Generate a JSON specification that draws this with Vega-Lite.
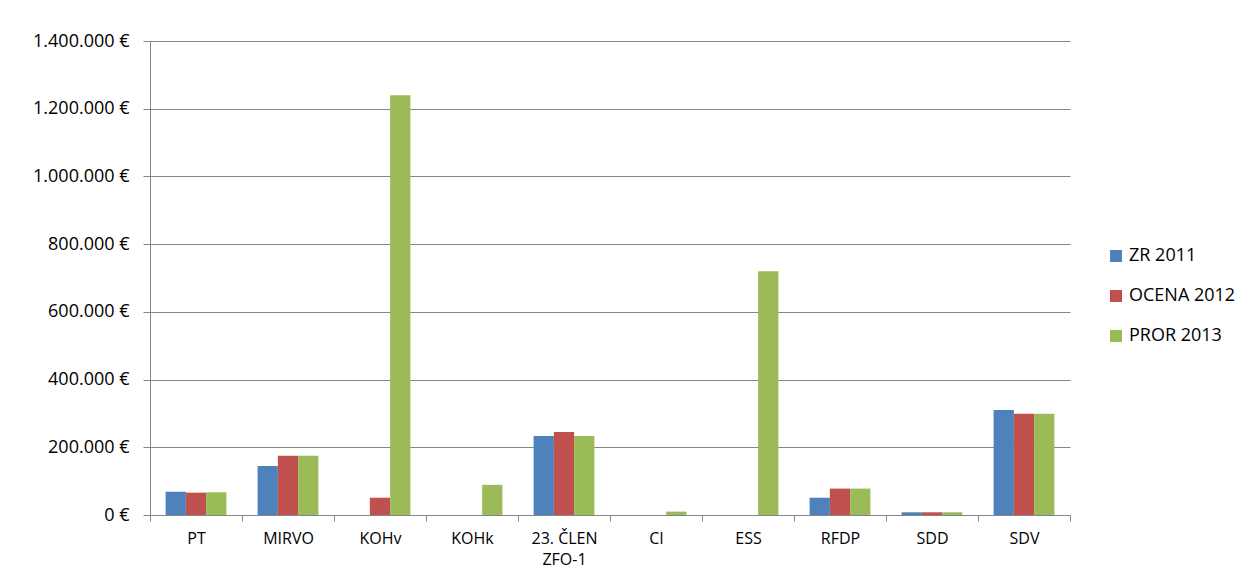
{
  "$schema": "https://vega.github.io/schema/vega-lite/v6.json",
  "autosize": "none",
  "width": 920,
  "height": 474,
  "padding": {"left": 150, "top": 41, "right": 181, "bottom": 66},
  "background": "white",
  "config": {
    "font": "Open Sans",
    "view": {"stroke": null},
    "axis": {"labelFont": "Open Sans", "labelColor": "#000000", "domainColor": "#868686", "tickColor": "#868686", "gridColor": "#868686"}
  },
  "data": {
    "values": [
      {"kategorija": "PT", "serija": "ZR 2011", "vrednost": 69000},
      {"kategorija": "PT", "serija": "OCENA 2012", "vrednost": 66000},
      {"kategorija": "PT", "serija": " PROR 2013", "vrednost": 67000},
      {"kategorija": "MIRVO", "serija": "ZR 2011", "vrednost": 145000},
      {"kategorija": "MIRVO", "serija": "OCENA 2012", "vrednost": 175000},
      {"kategorija": "MIRVO", "serija": " PROR 2013", "vrednost": 175000},
      {"kategorija": "KOHv", "serija": "ZR 2011", "vrednost": 0},
      {"kategorija": "KOHv", "serija": "OCENA 2012", "vrednost": 51000},
      {"kategorija": "KOHv", "serija": " PROR 2013", "vrednost": 1240000},
      {"kategorija": "KOHk", "serija": "ZR 2011", "vrednost": 0},
      {"kategorija": "KOHk", "serija": "OCENA 2012", "vrednost": 0},
      {"kategorija": "KOHk", "serija": " PROR 2013", "vrednost": 89000},
      {"kategorija": "23. ČLEN ZFO-1", "serija": "ZR 2011", "vrednost": 233000},
      {"kategorija": "23. ČLEN ZFO-1", "serija": "OCENA 2012", "vrednost": 245000},
      {"kategorija": "23. ČLEN ZFO-1", "serija": " PROR 2013", "vrednost": 233000},
      {"kategorija": "CI", "serija": "ZR 2011", "vrednost": 0},
      {"kategorija": "CI", "serija": "OCENA 2012", "vrednost": 0},
      {"kategorija": "CI", "serija": " PROR 2013", "vrednost": 10000},
      {"kategorija": "ESS", "serija": "ZR 2011", "vrednost": 0},
      {"kategorija": "ESS", "serija": "OCENA 2012", "vrednost": 0},
      {"kategorija": "ESS", "serija": " PROR 2013", "vrednost": 720000},
      {"kategorija": "RFDP", "serija": "ZR 2011", "vrednost": 51000},
      {"kategorija": "RFDP", "serija": "OCENA 2012", "vrednost": 78000},
      {"kategorija": "RFDP", "serija": " PROR 2013", "vrednost": 78000},
      {"kategorija": "SDD", "serija": "ZR 2011", "vrednost": 8000},
      {"kategorija": "SDD", "serija": "OCENA 2012", "vrednost": 8000},
      {"kategorija": "SDD", "serija": " PROR 2013", "vrednost": 8000},
      {"kategorija": "SDV", "serija": "ZR 2011", "vrednost": 310000},
      {"kategorija": "SDV", "serija": "OCENA 2012", "vrednost": 299000},
      {"kategorija": "SDV", "serija": " PROR 2013", "vrednost": 299000}
    ]
  },
  "mark": {"type": "bar"},
  "encoding": {
    "x": {
      "field": "kategorija",
      "type": "nominal",
      "sort": null,
      "title": null,
      "scale": {"paddingInner": 0, "paddingOuter": 0},
      "axis": {
        "labelAngle": 0,
        "labelFontSize": 16,
        "labelPadding": 9,
        "labelBaseline": "top",
        "tickBand": "extent",
        "tickSize": 6,
        "labelExpr": "datum.value == '23. ČLEN ZFO-1' ? ['23. ČLEN', 'ZFO-1'] : datum.value",
        "labelLineHeight": 21
      }
    },
    "xOffset": {
      "field": "serija",
      "type": "nominal",
      "sort": ["ZR 2011", "OCENA 2012", " PROR 2013"],
      "scale": {"paddingInner": 0, "paddingOuter": 0.77}
    },
    "y": {
      "field": "vrednost",
      "type": "quantitative",
      "title": null,
      "scale": {"domain": [0, 1400000], "nice": false},
      "axis": {
        "values": [0, 200000, 400000, 600000, 800000, 1000000, 1200000, 1400000],
        "labelFontSize": 18,
        "labelPadding": 14,
        "tickSize": 7,
        "labelExpr": "replace(format(datum.value, ',.0f'), /,/g, '.') + ' €'"
      }
    },
    "color": {
      "field": "serija",
      "type": "nominal",
      "sort": ["ZR 2011", "OCENA 2012", " PROR 2013"],
      "scale": {"domain": ["ZR 2011", "OCENA 2012", " PROR 2013"], "range": ["#4F81BD", "#C0504D", "#9BBB59"]},
      "legend": {
        "title": null,
        "orient": "none",
        "legendX": 957,
        "legendY": 206,
        "symbolType": "square",
        "symbolSize": 144,
        "symbolStrokeWidth": 0,
        "labelFontSize": 18,
        "labelFont": "Open Sans",
        "labelColor": "#000000",
        "rowPadding": 22,
        "labelOffset": 4
      }
    }
  }
}
